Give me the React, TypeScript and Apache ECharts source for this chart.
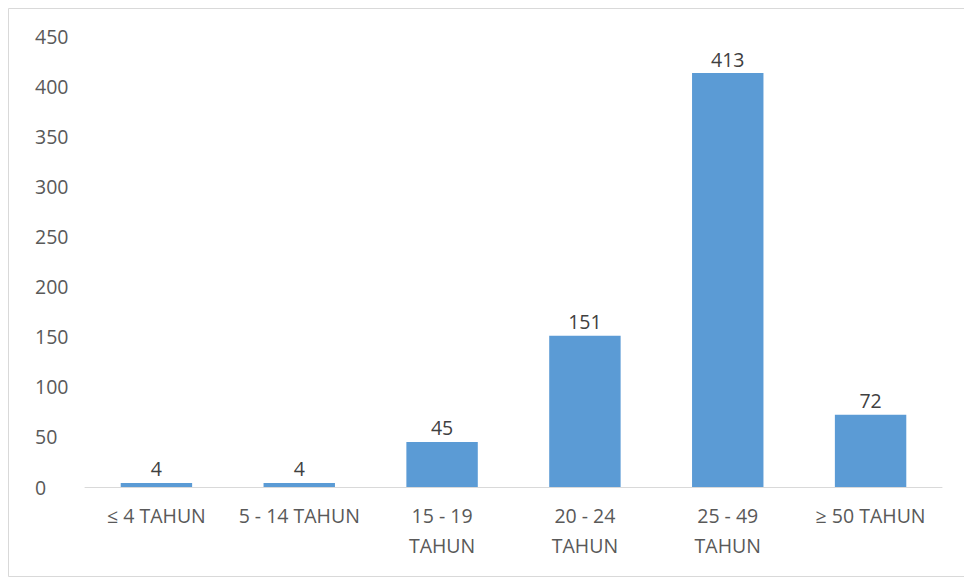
import React, { useEffect, useRef } from "react";
import * as echarts from "echarts";

const categories = ["≤ 4 TAHUN", "5 - 14 TAHUN", "15 - 19\nTAHUN", "20 - 24\nTAHUN", "25 - 49\nTAHUN", "≥ 50 TAHUN"];
const values = [4, 4, 45, 151, 413, 72];
const yTicks = { min: 0, max: 450, interval: 50 };

export default function App() {
  const ref = useRef<HTMLDivElement>(null);
  useEffect(() => {
    const chart = echarts.init(ref.current!, null, { renderer: "svg" });
    const font = "'Open Sans', 'Noto Sans', sans-serif";
    chart.setOption({
      animation: false,
      backgroundColor: "#ffffff",
      graphic: [
        {
          type: "rect",
          shape: { x: 8.5, y: 8.5, width: 970, height: 568 },
          style: { fill: "none", stroke: "#d9d9d9", lineWidth: 1 },
          silent: true,
        },
      ],
      grid: { left: 85, right: 22, top: 36, bottom: 91, containLabel: false },
      xAxis: {
        type: "category",
        data: categories,
        axisLine: { lineStyle: { color: "#d9d9d9", width: 1 } },
        axisTick: { show: false },
        axisLabel: {
          color: "#595959",
          fontSize: 19.5,
          fontFamily: font,
          lineHeight: 30,
          margin: 13,
          interval: 0,
        },
      },
      yAxis: {
        type: "value",
        min: yTicks.min,
        max: yTicks.max,
        interval: yTicks.interval,
        splitLine: { show: false },
        axisLine: { show: false },
        axisTick: { show: false },
        axisLabel: {
          color: "#595959",
          fontSize: 19.5,
          fontFamily: font,
          align: "left",
          margin: 50,
        },
      },
      series: [
        {
          type: "bar",
          data: values,
          barWidth: "50%",
          itemStyle: { color: "#5b9bd5" },
          label: {
            show: true,
            position: "top",
            color: "#404040",
            fontSize: 19.5,
            fontFamily: font,
            distance: 4,
          },
        },
      ],
    });
    return () => chart.dispose();
  }, []);
  return (
    <div
      ref={ref}
      style={{ position: "fixed", left: 0, top: 0, width: 964, height: 578 }}
    />
  );
}
